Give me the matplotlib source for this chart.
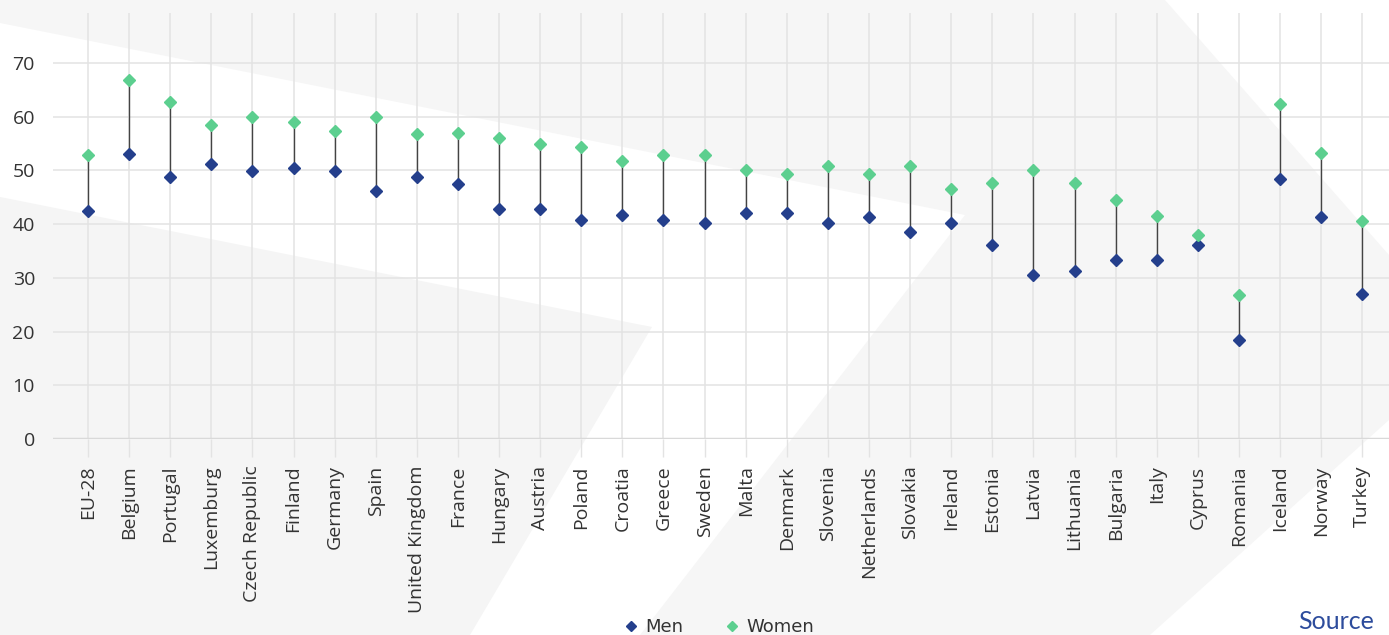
import matplotlib.pyplot as plt
from matplotlib.patches import Polygon

# data
countries = ['EU-28', 'Belgium', 'Portugal', 'Luxemburg', 'Czech Republic', 'Finland',
             'Germany', 'Spain', 'United Kingdom', 'France', 'Hungary', 'Austria',
             'Poland', 'Croatia', 'Greece', 'Sweden', 'Malta', 'Denmark', 'Slovenia',
             'Netherlands', 'Slovakia', 'Ireland', 'Estonia', 'Latvia', 'Lithuania',
             'Bulgaria', 'Italy', 'Cyprus', 'Romania', 'Iceland', 'Norway', 'Turkey']
men = [42.5, 53.0, 48.8, 51.2, 49.8, 50.5, 49.8, 46.2, 48.7, 47.4, 42.8, 42.8,
       40.7, 41.7, 40.7, 40.3, 42.1, 42.1, 40.3, 41.4, 38.5, 40.3, 36.1, 30.5,
       31.2, 33.3, 33.3, 36.1, 18.5, 48.4, 41.4, 26.9]
women = [52.8, 66.9, 62.7, 58.5, 59.9, 59.1, 57.4, 59.9, 56.7, 57.0, 56.0, 54.9,
         54.3, 51.8, 52.9, 52.9, 50.0, 49.3, 50.8, 49.3, 50.8, 46.5, 47.6, 50.0,
         47.6, 44.4, 41.6, 38.0, 26.8, 62.4, 53.2, 40.5]
yticks = [0, 10, 20, 30, 40, 50, 60, 70]

men_color = '#243f8c'
women_color = '#5ccf8f'
grid_color = '#e3e3e3'

W, H = 1389, 635
fig = plt.figure(figsize=(W / 100, H / 100), dpi=100)

# light grey background shapes (pixel coords, y down)
def px(pts):
    return [(x / W, 1 - y / H) for x, y in pts]

shapes = [
    ([(0, 0), (1165, 0), (1389, 255), (1389, 420), (1150, 635), (640, 635),
      (965, 215), (0, 23)], '#f6f6f6'),
    ([(0, 197), (652, 327), (470, 635), (0, 635)], '#f5f5f5'),
]
for pts, c in shapes:
    fig.patches.append(Polygon(px(pts), closed=True, transform=fig.transFigure,
                               facecolor=c, edgecolor='none', zorder=-5))

ax = fig.add_axes([53 / W, 1 - 439 / H, 1 - 53 / W, (439 - 13) / H])
ax.patch.set_alpha(0)
ax.set_zorder(1)

x = list(range(len(countries)))
ax.vlines(x, men, women, color='#444444', linewidth=1.0, zorder=3)
ax.plot(x, men, 'D', color=men_color, markersize=6.5, linestyle='none',
        label='Men', zorder=4)
ax.plot(x, women, 'D', color=women_color, markersize=6.5, linestyle='none',
        label='Women', zorder=4)

ax.set_xlim(-0.852, 31.65)
ax.set_ylim(0, 79.3)
ax.set_yticks(yticks)
ax.set_xticks(x)
ax.set_xticklabels(countries, rotation=90, fontsize=14, family='Open Sans',
                   color='#333333')
ax.tick_params(axis='x', length=13, width=1.0, color=grid_color, pad=6)
ax.tick_params(axis='y', length=0, pad=13, labelsize=14, labelcolor='#333333')
for lab in ax.get_yticklabels():
    lab.set_family('Open Sans')

ax.grid(True, color=grid_color, linewidth=1.1, zorder=1)
ax.set_axisbelow(True)
for s in ax.spines.values():
    s.set_visible(False)
ax.axhline(0, color='#d9d9d9', linewidth=2.5, zorder=2)

leg = fig.legend(loc='center', bbox_to_anchor=(718 / W, 1 - 627 / H), ncol=2,
                 frameon=False, markerscale=0.8, handletextpad=0.3,
                 columnspacing=2.2, handlelength=1.0,
                 prop={'family': ['Liberation Sans Narrow', 'DejaVu Sans'], 'size': 13})
for t in leg.get_texts():
    t.set_color('#333333')

fig.text(1298 / W, 1 - 610 / H, 'Source', fontsize=18, color='#2d4c9c',
         family='Lato', va='top', ha='left')

fig.savefig('out.png', dpi=100)
